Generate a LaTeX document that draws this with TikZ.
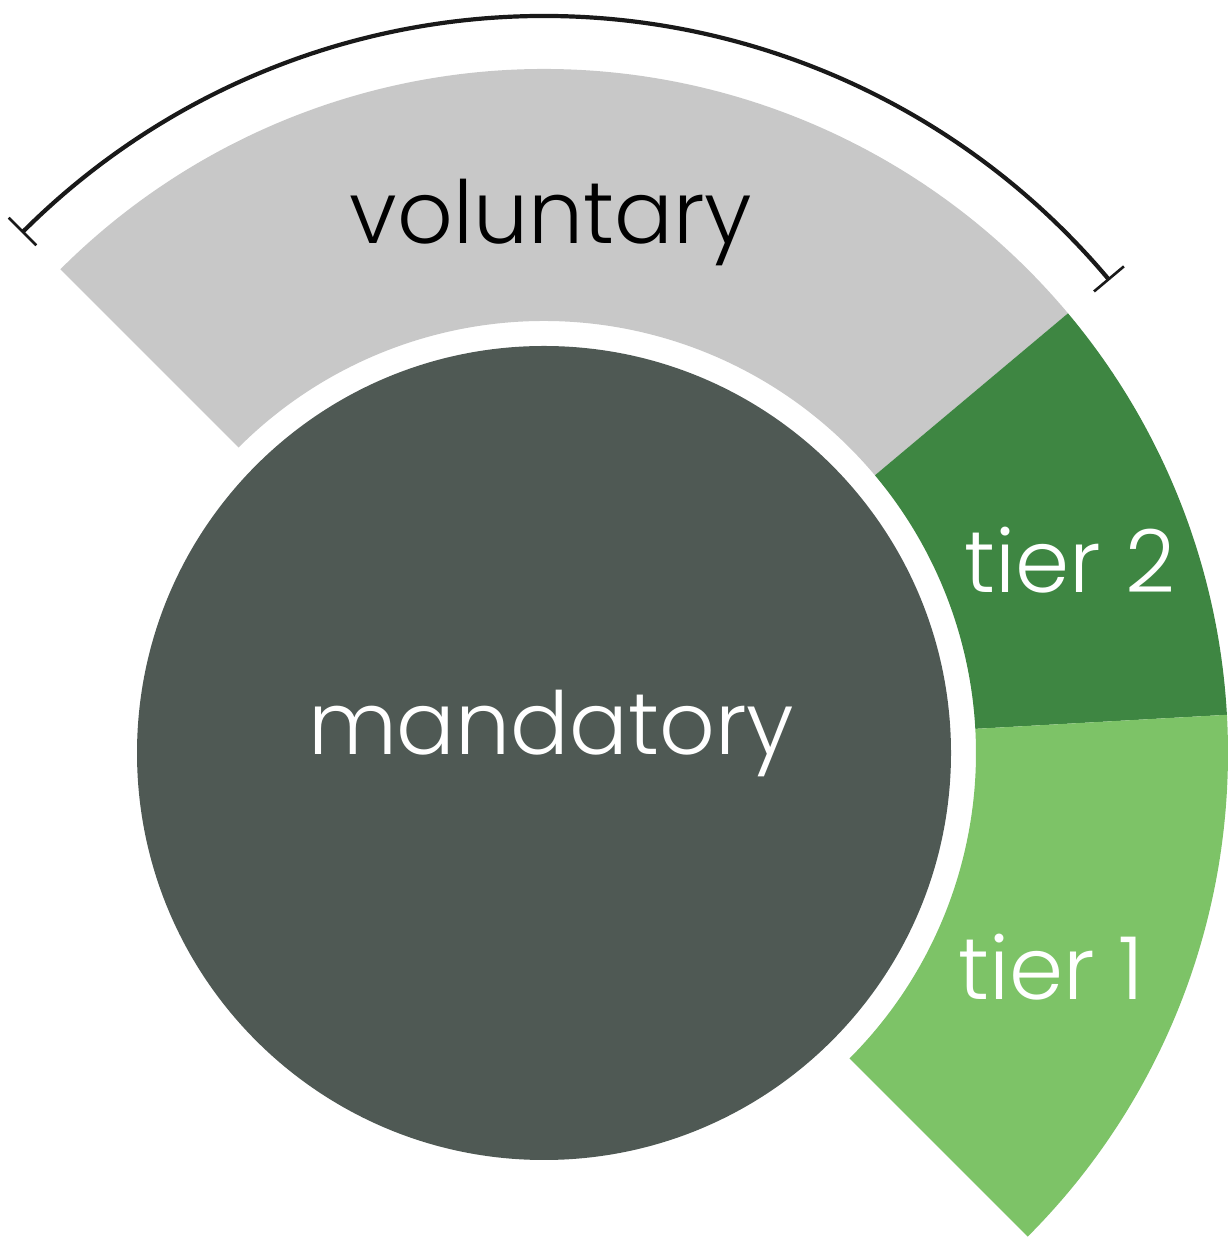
\documentclass[tikz,border=0pt]{standalone}
\usepackage{fontspec}
\IfFontExistsTF{Poppins Light}{\setmainfont{Poppins Light}}{\setmainfont{Poppins}}
\usetikzlibrary{calc}
\definecolor{volgray}{HTML}{C8C8C8}
\definecolor{mandgray}{HTML}{4F5954}
\definecolor{tiertwo}{HTML}{3E8642}
\definecolor{tierone}{HTML}{7DC367}
\tikzset{
  lbl/.style={font=\fontsize{43.5}{52}\selectfont, inner sep=0pt, anchor=base},
  bracket/.style={line width=2.1pt, color=black!90},
  bracketend/.style={line width=1.3pt, color=black!90},
}
\begin{document}
\begin{tikzpicture}[x=0.5pt,y=0.5pt]
\useasboundingbox (0,0) rectangle (1230,1240);
\coordinate (C) at (544,487);
% voluntary sector
\fill[volgray] ($(C)+(40:684)$) arc[start angle=40,end angle=135,radius=684]
  -- ($(C)+(135:432)$) arc[start angle=135,end angle=40,radius=432] -- cycle;
% tier 2
\fill[tiertwo] ($(C)+(3.2:684)$) arc[start angle=3.2,end angle=40,radius=684]
  -- ($(C)+(40:432)$) arc[start angle=40,end angle=3.2,radius=432] -- cycle;
% tier 1
\fill[tierone] ($(C)+(-45:684)$) arc[start angle=-45,end angle=3.2,radius=684]
  -- ($(C)+(3.2:432)$) arc[start angle=3.2,end angle=-45,radius=432] -- cycle;
% mandatory circle
\node[circle, fill=mandgray, minimum size=407pt, inner sep=0pt] (mand) at (C) {};
% bracket
\coordinate (bl) at ($(C)+(135:737)$);
\coordinate (br) at ($(C)+(40:737)$);
\draw[bracket] (br) arc[start angle=40,end angle=135,radius=737];
\draw[bracketend] ($(C)+(135:718)$) -- ($(C)+(135:757)$);
\draw[bracketend] ($(C)+(40:718)$) -- ($(C)+(40:757)$);
% labels
\node[lbl, text=black] (vol) at (551,996) {voluntary};
\node[lbl, text=white] (mandlbl) at (551,485) {mandatory};
\node[lbl, text=white] (t2) at (1070,647) {tier 2};
\node[lbl, text=white] (t1) at (1051,240) {tier 1};
\end{tikzpicture}
\end{document}
